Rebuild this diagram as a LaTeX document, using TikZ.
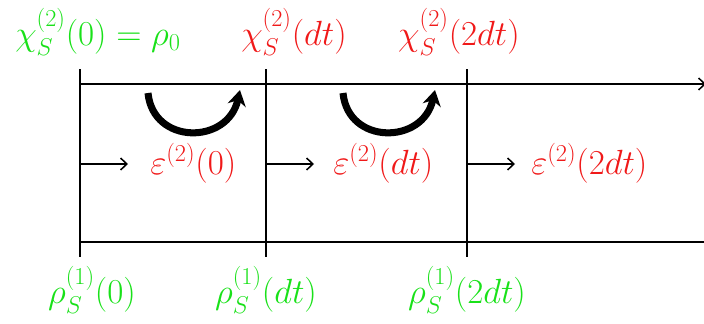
\documentclass[tikz,border=0pt]{standalone}
\usepackage{amsmath, amssymb}
\usepackage{tikz}
\usetikzlibrary{arrows.meta, positioning}

\definecolor{stategreen}{RGB}{25,225,25}
\definecolor{mapred}{RGB}{240,25,25}

\begin{document}
\begin{tikzpicture}[
  x=0.025cm, y=-0.025cm,
  font=\fontsize{24.8}{30}\selectfont,
  axis/.style={line width=1.1pt},
  feed/.style={line width=1.1pt, -{Straight Barb[length=4.5pt, width=8.5pt]}},
  swing/.style={line width=5pt, -{Stealth[length=11pt, width=13pt]}},
  greenlbl/.style={text=stategreen, anchor=base, inner sep=0pt},
  redlbl/.style={text=mapred, anchor=base, inner sep=0pt}
]
\useasboundingbox (0,0) rectangle (704,323);

% time slices
\foreach \name/\x in {s0/80, s1/266, s2/467} {
  \coordinate (up-\name) at (\x,69);
  \coordinate (down-\name) at (\x,257);
  \coordinate (mid-\name) at (\x,164);
  \draw[axis] (up-\name) -- (down-\name);
}
\coordinate (topend) at (706,84);
\coordinate (botend) at (704,242);
\draw[axis, -{Straight Barb[length=4.5pt, width=8.5pt]}] (up-s0 |- topend) -- (topend);
\draw[axis] (up-s0 |- botend) -- (botend);

% maps
\node[redlbl, anchor=base west] (eps0) at (150,174) {$\varepsilon^{(2)}(0)$};
\node[redlbl, anchor=base west] (eps1) at (333,174) {$\varepsilon^{(2)}(dt)$};
\node[redlbl, anchor=base west] (eps2) at (531,174) {$\varepsilon^{(2)}(2dt)$};
\draw[feed] (mid-s0) -- ++(48,0);
\draw[feed] (mid-s1) -- ++(48,0);
\draw[feed] (mid-s2) -- ++(48,0);

% chi states
\node[greenlbl, anchor=base west] (chi0) at (15,45) {$\chi_S^{(2)}(0)=\rho_0$};
\node[redlbl] (chi1) at (294,45) {$\chi_S^{(2)}(dt)$};
\node[redlbl] (chi2) at (459,45) {$\chi_S^{(2)}(2dt)$};

% rho states
\node[greenlbl] (rho0) at (92,303) {$\rho_S^{(1)}(0)$};
\node[greenlbl] (rho1) at (266,303) {$\rho_S^{(1)}(dt)$};
\node[greenlbl] (rho2) at (467,303) {$\rho_S^{(1)}(2dt)$};

% updates
\coordinate (u0a) at (148,93);
\coordinate (u0b) at (240,90);
\coordinate (u1a) at (343,93);
\coordinate (u1b) at (435,90);
\draw[swing] (u0a) .. controls (153,145) and (228,145) .. (u0b);
\draw[swing] (u1a) .. controls (348,145) and (423,145) .. (u1b);
\end{tikzpicture}
\end{document}
